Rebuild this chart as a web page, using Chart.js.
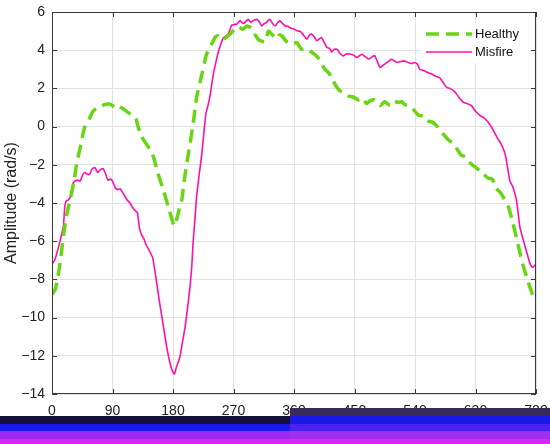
<!DOCTYPE html>
<html>
<head>
<meta charset="utf-8">
<script src="https://cdn.jsdelivr.net/npm/chart.js@4.4.1/dist/chart.umd.min.js"></script>
<style>
  body { margin: 0; background: #fff; }
  #wrap { position: relative; width: 550px; height: 444px; }
  .band { position: absolute; }
</style>
</head>
<body>
<div id="wrap">
  <canvas id="chart" width="550" height="444"></canvas>
  <div class="band" style="left:0;top:416px;width:290px;height:28px;background:linear-gradient(#14103c 0 8px,#1c18ee 8px 15px,#9a2cf2 15px 23px,#e024f0 23px 28px);"></div>
  <div class="band" style="left:290px;top:408px;width:260px;height:36px;background:linear-gradient(#3a2a5a 0 8px,#1a1ae6 8px 16px,#4a22f0 16px 23px,#a030f0 23px 31px,#d828f0 31px 36px);"></div>
</div>
<script>
// crank angle (deg) and amplitude (rad/s)
const healthyAngle = [0, 5, 10, 14, 17, 22, 29, 33, 36, 40, 42, 46, 49, 54, 61, 66, 71, 78, 86, 90,
  94, 98, 103, 109, 115, 121, 125, 128, 133, 140, 146, 151, 158, 166, 173, 178, 182, 186, 190, 193,
  198, 203, 210, 215, 223, 230, 238, 243, 247, 251, 255, 260, 265, 272, 278, 284, 290, 297, 302, 306,
  310, 317, 322, 327, 334, 338, 342, 349, 357, 364, 371, 378, 384, 390, 396, 401, 406, 412, 418, 423,
  428, 434, 441, 448, 456, 462, 468, 473, 480, 488, 495, 503, 509, 515, 520, 525, 531, 537, 545, 552,
  558, 565, 572, 580, 590, 598, 603, 609, 616, 622, 629, 636, 642, 649, 655, 660, 667, 673, 679, 686,
  694, 701, 709, 715, 720];
const healthyAmp = [-8.8, -8.5, -7.6, -6.6, -5.7, -4.6, -3.5, -2.8, -2.1, -1.4, -1.1, -0.4, 0.0, 0.3, 0.8, 0.95, 1.0, 1.15, 1.18, 1.1,
  1.0, 1.1, 1.0, 0.85, 0.7, 0.6, 0.4, 0.0, -0.5, -0.9, -1.2, -1.6, -2.5, -3.35, -4.2, -4.8, -5.2, -4.8, -4.2, -3.85,
  -2.5, -1.4, 0.15, 1.5, 2.75, 3.8, 4.35, 4.7, 4.75, 4.6, 4.55, 4.7, 4.85, 5.1, 5.2, 5.1, 5.27, 5.15, 4.83, 4.6,
  4.5, 4.45, 5.0, 4.83, 4.6, 4.8, 4.75, 4.45, 4.3, 4.4, 4.05, 4.1, 3.96, 3.8, 3.6, 3.3, 3.0, 2.8, 2.4, 2.1,
  1.88, 1.8, 1.6, 1.55, 1.4, 1.5, 1.2, 1.35, 1.4, 1.1, 1.3, 1.1, 1.3, 1.27, 1.3, 1.15, 1.1, 0.92, 0.6, 0.55,
  0.3, 0.25, 0.05, -0.3, -0.7, -0.9, -1.2, -1.5, -1.6, -1.9, -2.1, -2.3, -2.5, -2.7, -2.75, -3.2, -3.45, -3.8, -4.2, -5.1,
  -6.3, -7.3, -8.2, -8.8, -9.05];

const misfireAngle = [0, 4, 9, 14, 17, 19, 21, 24, 27, 31, 34, 38, 42, 46, 49, 53, 56, 60, 64, 68,
  72, 76, 80, 83, 87, 90, 94, 98, 101, 106, 111, 116, 120, 124, 127, 130, 133, 137, 140, 145,
  150, 155, 160, 165, 170, 175, 179, 182, 185, 190, 194, 198, 202, 205, 208, 210, 213, 215, 219, 223,
  226, 229, 232, 235, 240, 244, 247, 251, 255, 259, 262, 265, 267, 271, 275, 280, 284, 287, 292, 296,
  299, 302, 305, 309, 312, 316, 319, 324, 328, 332, 336, 339, 343, 347, 351, 354, 360, 366, 369, 374,
  379, 383, 386, 390, 394, 398, 401, 405, 409, 413, 416, 420, 424, 428, 433, 438, 443, 448, 453, 457,
  461, 466, 471, 476, 480, 484, 488, 492, 495, 500, 505, 509, 513, 518, 523, 527, 530, 535, 540, 544,
  547, 552, 558, 565, 570, 577, 582, 587, 592, 600, 606, 612, 618, 624, 630, 637, 643, 649, 655, 662,
  668, 674, 678, 681, 686, 691, 696, 700, 704, 708, 711, 714, 716, 720];
const misfireAmp = [-7.2, -7.0, -6.4, -5.7, -5.2, -4.2, -3.9, -3.85, -3.7, -3.0, -2.85, -2.8, -2.85, -2.5, -2.4, -2.5, -2.5, -2.2, -2.15, -2.4,
  -2.25, -2.2, -2.5, -2.8, -2.75, -2.85, -3.2, -3.3, -3.25, -3.5, -3.8, -4.0, -4.25, -4.4, -4.5, -5.3, -5.65, -5.9, -6.2, -6.5,
  -6.9, -8.0, -9.2, -10.3, -11.4, -12.3, -12.8, -12.95, -12.6, -12.1, -11.3, -10.5, -9.4, -8.5, -7.3, -6.0, -4.7, -3.7, -2.5, -1.4,
  -0.3, 0.7, 1.1, 1.6, 2.75, 3.4, 3.85, 4.3, 4.65, 4.75, 4.85, 5.1, 5.3, 5.35, 5.36, 5.55, 5.4, 5.45, 5.62, 5.45,
  5.55, 5.6, 5.62, 5.45, 5.27, 5.4, 5.45, 5.62, 5.4, 5.27, 5.45, 5.55, 5.4, 5.27, 5.25, 5.18, 5.1, 5.0, 5.0, 4.8,
  4.57, 4.8, 4.85, 4.7, 4.49, 4.6, 4.66, 4.4, 4.14, 4.1, 3.9, 4.05, 4.05, 3.85, 3.7, 3.8, 3.8, 3.75, 3.62, 3.7,
  3.79, 3.65, 3.53, 3.65, 3.72, 3.4, 3.09, 3.2, 3.27, 3.4, 3.53, 3.45, 3.36, 3.4, 3.44, 3.4, 3.36, 3.3, 3.36, 3.25,
  3.0, 2.95, 2.85, 2.75, 2.65, 2.55, 2.3, 2.05, 2.0, 1.79, 1.5, 1.27, 1.2, 1.1, 0.8, 0.57, 0.45, 0.23, -0.1, -0.56,
  -0.9, -1.42, -2.2, -2.82, -3.2, -3.86, -5.25, -5.8, -6.3, -6.8, -7.16, -7.35, -7.34, -7.2];

const xTicks = [0, 90, 180, 270, 360, 450, 540, 630, 720];
const yTicks = [-14, -12, -10, -8, -6, -4, -2, 0, 2, 4, 6];

const green = "rgb(104, 214, 20)";
const pink = "rgb(255, 16, 168)";
const axisColor = "#3a3a3a";
const font = "'Liberation Sans', Arial, sans-serif";

const toPoints = (xs, ys) => xs.map((x, i) => ({ x: x, y: ys[i] }));

// box around the plot with inward ticks on all four sides
const boxPlugin = {
    id: "box",
    afterDatasetsDraw(chart) {
        const { ctx, chartArea: a, scales } = chart;
        ctx.save();
        ctx.strokeStyle = axisColor;
        ctx.lineWidth = 1;
        ctx.strokeRect(a.left + 0.5, a.top + 0.5, a.right - a.left - 1, a.bottom - a.top - 1);
        ctx.beginPath();
        xTicks.forEach((v) => {
            const x = Math.round(scales.x.getPixelForValue(v)) + 0.5;
            ctx.moveTo(x, a.bottom); ctx.lineTo(x, a.bottom - 5);
            ctx.moveTo(x, a.top); ctx.lineTo(x, a.top + 5);
        });
        yTicks.forEach((v) => {
            const y = Math.round(scales.y.getPixelForValue(v)) + 0.5;
            ctx.moveTo(a.left, y); ctx.lineTo(a.left + 5, y);
            ctx.moveTo(a.right, y); ctx.lineTo(a.right - 5, y);
        });
        ctx.stroke();

        // legend, top right inside the axes
        const lx = 426, ly = 34, gap = 18;
        ctx.fillStyle = "#fff";
        ctx.fillRect(420, 23, 110, 40);
        chart.data.datasets.forEach((ds, i) => {
            const y = ly + i * gap;
            ctx.beginPath();
            ctx.strokeStyle = ds.borderColor;
            ctx.lineWidth = ds.borderWidth;
            ctx.setLineDash(ds.borderDash || []);
            ctx.moveTo(lx, y); ctx.lineTo(lx + 46, y);
            ctx.stroke();
            ctx.setLineDash([]);
            ctx.fillStyle = "#111";
            ctx.font = "13px " + font;
            ctx.textBaseline = "middle";
            ctx.fillText(ds.label, lx + 49, y);
        });
        ctx.restore();
    },
};

new Chart(document.getElementById("chart"), {
    type: "line",
    data: {
        datasets: [
            {
                label: "Healthy",
                data: toPoints(healthyAngle, healthyAmp),
                borderColor: green,
                borderWidth: 3.5,
                borderDash: [13, 7],
                pointRadius: 0,
                tension: 0.2,
            },
            {
                label: "Misfire",
                data: toPoints(misfireAngle, misfireAmp),
                borderColor: pink,
                borderWidth: 1.6,
                pointRadius: 0,
                tension: 0.15,
            },
        ],
    },
    options: {
        responsive: false,
        animation: false,
        layout: { padding: { left: 0, top: 12, right: 14, bottom: 0 } },
        plugins: { legend: { display: false }, tooltip: { enabled: false } },
        scales: {
            x: {
                type: "linear",
                min: 0,
                max: 720,
                afterBuildTicks: (s) => { s.ticks = xTicks.map((v) => ({ value: v })); },
                afterFit: (s) => { s.height = 50; s.paddingLeft = 0; s.paddingRight = 0; },
                grid: { color: "#e2e2e2", drawTicks: false },
                border: { display: false },
                ticks: { color: "#222", font: { family: font, size: 14 }, padding: 9, maxRotation: 0 },
            },
            y: {
                min: -14,
                max: 6,
                afterBuildTicks: (s) => { s.ticks = yTicks.map((v) => ({ value: v })); },
                afterFit: (s) => { s.width = 52; s.paddingTop = 0; s.paddingBottom = 0; },
                grid: { color: "#e2e2e2", drawTicks: false },
                border: { display: false },
                ticks: {
                    color: "#222",
                    font: { family: font, size: 14 },
                    padding: 7,
                    callback: (v) => (v < 0 ? "\u2212" + Math.abs(v) : String(v)),
                },
                title: {
                    display: true,
                    text: "Amplitude (rad/s)",
                    color: "#222",
                    font: { family: font, size: 16 },
                    padding: { top: 2, bottom: 0 },
                },
            },
        },
    },
    plugins: [boxPlugin],
});
</script>
</body>
</html>
